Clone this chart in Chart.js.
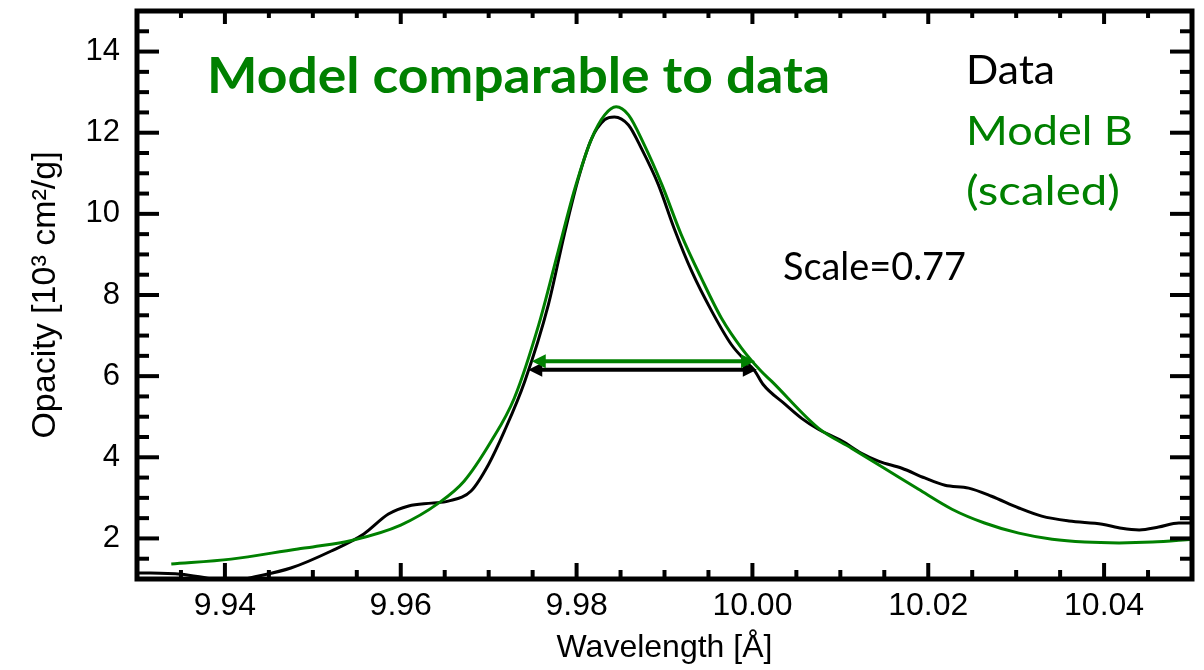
<!DOCTYPE html>
<html>
<head>
<meta charset="utf-8">
<script src="https://cdn.jsdelivr.net/npm/chart.js@4.4.1/dist/chart.umd.min.js"></script>
<style>
html,body{margin:0;padding:0;background:#ffffff;}
#wrap{width:1204px;height:670px;position:relative;}
</style>
</head>
<body>
<div id="wrap"><canvas id="c"></canvas></div>
<script>
// ---- data ----
const dataWavelength = [9.9300, 9.9350, 9.9380, 9.9405, 9.9433, 9.9475, 9.9521, 9.9558, 9.9586, 9.9609,
  9.9635, 9.9654, 9.9680, 9.9700, 9.9718, 9.9741, 9.9768, 9.9786, 9.9802, 9.9817,
  9.9832, 9.9843, 9.9859, 9.9874, 9.9893, 9.9911, 9.9931, 9.9954, 9.9976, 9.9996,
  10.0003, 10.0012, 10.0037, 10.0056, 10.0075, 10.0102, 10.0124, 10.0144, 10.0170, 10.0196,
  10.0219, 10.0246, 10.0272, 10.0303, 10.0329, 10.0360, 10.0398, 10.0420, 10.0440, 10.0462,
  10.0485, 10.0500];
const dataOpacity = [1.15, 1.12, 1.02, 0.93, 1.05, 1.27, 1.69, 2.11, 2.60, 2.80,
  2.87, 2.92, 3.17, 3.83, 4.65, 5.87, 7.77, 9.49, 10.87, 11.85,
  12.32, 12.39, 12.19, 11.60, 10.72, 9.64, 8.58, 7.59, 6.78, 6.29,
  6.12, 5.80, 5.31, 4.96, 4.69, 4.40, 4.10, 3.90, 3.73, 3.49,
  3.31, 3.24, 3.04, 2.75, 2.55, 2.43, 2.35, 2.25, 2.21, 2.28,
  2.38, 2.38];

const modelWavelength = [9.9339, 9.9407, 9.9483, 9.9500, 9.9544, 9.9600, 9.9643, 9.9672, 9.9703, 9.9729,
  9.9757, 9.9779, 9.9798, 9.9817, 9.9832, 9.9845, 9.9859, 9.9877, 9.9897, 9.9919,
  9.9942, 9.9965, 9.9988, 10.0010, 10.0022, 10.0075, 10.0113, 10.0150, 10.0189, 10.0227,
  10.0264, 10.0303, 10.0341, 10.0378, 10.0417, 10.0455, 10.0500];
const modelOpacity = [1.37, 1.49, 1.74, 1.79, 1.95, 2.33, 2.87, 3.41, 4.40, 5.45,
  7.27, 9.07, 10.62, 11.85, 12.44, 12.64, 12.44, 11.70, 10.72, 9.49,
  8.41, 7.42, 6.68, 6.12, 5.87, 4.72, 4.22, 3.73, 3.21, 2.72,
  2.38, 2.13, 1.98, 1.91, 1.89, 1.91, 1.98];

// FWHM arrows (wavelength endpoints, opacity level)
const fwhmDataX = [9.9745, 10.0005];
const fwhmDataY = 6.16;
const fwhmModelX = [9.9749, 10.0003];
const fwhmModelY = 6.37;

const xRange = [9.93, 10.05];
const yRange = [1, 15];
const xTickValues = [9.94, 9.96, 9.98, 10.00, 10.02, 10.04];
const xTickLabels = ['9.94', '9.96', '9.98', '10.00', '10.02', '10.04'];
const yTickValues = [2, 4, 6, 8, 10, 12, 14];
const yTickLabels = ['2', '4', '6', '8', '10', '12', '14'];
const xMinorStep = 0.005;
const yMinorStep = 0.5;

const GREEN = '#008000';
const BLACK = '#000000';

// ---- helpers ----
function pairs(xs, ys) { return xs.map((x, i) => ({x: x, y: ys[i]})); }

function fitText(ctx, text, x, baseline, font, color, width) {
  ctx.save();
  ctx.font = font;
  ctx.textAlign = 'left';
  ctx.textBaseline = 'alphabetic';
  const w = ctx.measureText(text).width;
  ctx.translate(x, baseline);
  ctx.scale(width / w, 1);
  ctx.fillStyle = color;
  ctx.fillText(text, 0, 0);
  ctx.restore();
}

function drawArrow(ctx, xs, ys, x1, x2, yv, color) {
  const p1 = xs.getPixelForValue(x1), p2 = xs.getPixelForValue(x2), py = ys.getPixelForValue(yv);
  const hl = 14, hw = 7;
  ctx.save();
  ctx.strokeStyle = color; ctx.fillStyle = color; ctx.lineWidth = 4; ctx.lineCap = 'butt';
  ctx.beginPath(); ctx.moveTo(p1 + hl - 1, py); ctx.lineTo(p2 - hl + 1, py); ctx.stroke();
  ctx.beginPath(); ctx.moveTo(p1, py); ctx.lineTo(p1 + hl, py - hw); ctx.lineTo(p1 + hl, py + hw); ctx.closePath(); ctx.fill();
  ctx.beginPath(); ctx.moveTo(p2, py); ctx.lineTo(p2 - hl, py - hw); ctx.lineTo(p2 - hl, py + hw); ctx.closePath(); ctx.fill();
  ctx.restore();
}

const framePlugin = {
  id: 'frameAndTicks',
  afterDatasetsDraw(chart) {
    const ctx = chart.ctx;
    const xs = chart.scales.x, ys = chart.scales.y;
    const a = chart.chartArea;

    drawArrow(ctx, xs, ys, fwhmDataX[0], fwhmDataX[1], fwhmDataY, BLACK);
    drawArrow(ctx, xs, ys, fwhmModelX[0], fwhmModelX[1], fwhmModelY, GREEN);

    ctx.save();
    ctx.strokeStyle = BLACK;
    ctx.lineCap = 'butt';
    ctx.lineWidth = 4;
    const nx = Math.round((xRange[1] - xRange[0]) / xMinorStep);
    for (let i = 1; i < nx; i++) {
      const v = xRange[0] + i * xMinorStep;
      const major = xTickValues.some(t => Math.abs(t - v) < 1e-6);
      const px = xs.getPixelForValue(v);
      const lb = major ? 16 : 9, lt = major ? 13 : 7;
      ctx.beginPath(); ctx.moveTo(px, a.bottom); ctx.lineTo(px, a.bottom - lb); ctx.stroke();
      ctx.beginPath(); ctx.moveTo(px, a.top); ctx.lineTo(px, a.top + lt); ctx.stroke();
    }
    const ny = Math.round((yRange[1] - yRange[0]) / yMinorStep);
    for (let i = 1; i < ny; i++) {
      const v = yRange[0] + i * yMinorStep;
      const major = yTickValues.some(t => Math.abs(t - v) < 1e-6);
      const py = ys.getPixelForValue(v);
      const l = major ? 22 : 12;
      ctx.beginPath(); ctx.moveTo(a.left, py); ctx.lineTo(a.left + l, py); ctx.stroke();
      ctx.beginPath(); ctx.moveTo(a.right, py); ctx.lineTo(a.right - l, py); ctx.stroke();
    }
    ctx.lineWidth = 5;
    ctx.strokeRect(a.left, a.top, a.right - a.left, a.bottom - a.top);
    ctx.restore();
  },
  afterDraw(chart) {
    const ctx = chart.ctx;
    fitText(ctx, 'Model comparable to data', 207, 93, 'bold 49px Lato', GREEN, 623);
    fitText(ctx, 'Data', 966, 84, '41px Lato', BLACK, 89);
    fitText(ctx, 'Model B', 966, 145, '41px Lato', GREEN, 167);
    fitText(ctx, '(scaled)', 966, 205, '41px Lato', GREEN, 154);
    fitText(ctx, 'Scale=0.77', 783, 280, '38px Lato', BLACK, 183);
  }
};

Chart.defaults.font.family = "'Liberation Sans', Arial, sans-serif";
Chart.defaults.color = '#000';

new Chart(document.getElementById('c'), {
  type: 'scatter',
  data: {
    datasets: [
      {
        label: 'Model B (scaled)',
        data: pairs(modelWavelength, modelOpacity),
        showLine: true, borderColor: GREEN, borderWidth: 3, pointRadius: 0,
        cubicInterpolationMode: 'monotone', order: 0
      },
      {
        label: 'Data',
        data: pairs(dataWavelength, dataOpacity),
        showLine: true, borderColor: BLACK, borderWidth: 3, pointRadius: 0,
        cubicInterpolationMode: 'monotone', order: 1
      }
    ]
  },
  options: {
    responsive: true,
    maintainAspectRatio: false,
    animation: false,
    events: [],
    layout: {padding: {top: 11, right: 12, left: 0, bottom: 0}},
    plugins: {legend: {display: false}, tooltip: {enabled: false}},
    scales: {
      x: {
        type: 'linear', min: xRange[0], max: xRange[1],
        afterBuildTicks: s => { s.ticks = xTickValues.map(v => ({value: v})); },
        afterFit: s => { s.height = 91; s.paddingLeft = 0; s.paddingRight = 0; },
        ticks: {
          callback: (v, i) => xTickLabels[i],
          font: {size: 32}, color: BLACK, padding: 8, maxRotation: 0, autoSkip: false
        },
        grid: {display: false, drawTicks: false},
        border: {display: false},
        title: {display: true, text: 'Wavelength [Å]', font: {size: 32}, color: BLACK, padding: {top: 0, bottom: 3}}
      },
      y: {
        type: 'linear', min: yRange[0], max: yRange[1],
        afterBuildTicks: s => { s.ticks = yTickValues.map(v => ({value: v})); },
        afterFit: s => { s.width = 137; s.paddingTop = 0; s.paddingBottom = 0; },
        ticks: {
          callback: (v, i) => yTickLabels[i],
          font: {size: 31}, color: BLACK, padding: 17, autoSkip: false
        },
        grid: {display: false, drawTicks: false},
        border: {display: false},
        title: {display: true, text: 'Opacity [10³ cm²/g]', font: {size: 34}, color: BLACK, padding: {top: 25, bottom: 0}}
      }
    }
  },
  plugins: [framePlugin]
});
</script>
</body>
</html>
